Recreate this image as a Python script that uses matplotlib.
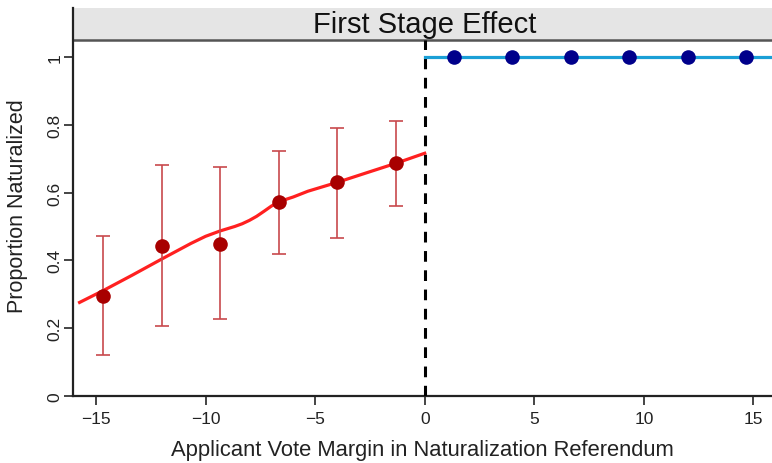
import matplotlib.pyplot as plt
from matplotlib.patches import Rectangle

plt.rcParams['font.family'] = ['Liberation Sans', 'DejaVu Sans']

# binned means below the threshold (with 95% CIs)
left_x = [-14.67, -12.0, -9.33, -6.67, -4.0, -1.33]
left_y = [0.296, 0.443, 0.448, 0.571, 0.630, 0.686]
left_lo = [0.121, 0.207, 0.226, 0.420, 0.466, 0.560]
left_hi = [0.471, 0.681, 0.675, 0.724, 0.791, 0.811]

# binned means above the threshold
right_x = [1.33, 4.0, 6.67, 9.33, 12.0, 14.67]
right_y = [1.0, 1.0, 1.0, 1.0, 1.0, 1.0]

# smoothed fit, left side
fit_x = [-15.75, -14.67, -13.33, -12.0, -10.67, -10.0, -9.33, -8.67, -8.33, -8.0,
         -7.67, -7.33, -7.0, -6.67, -6.33, -6.0, -5.33, -4.0, -2.67, -1.33, 0.0]
fit_y = [0.276, 0.311, 0.357, 0.404, 0.450, 0.471, 0.487, 0.500, 0.508, 0.518,
         0.530, 0.545, 0.560, 0.572, 0.580, 0.587, 0.604, 0.630, 0.658, 0.686, 0.716]

# fit above the threshold
fit_r_x = [0.0, 16.0]
fit_r_y = [1.0, 1.0]

xticks = [-15, -10, -5, 0, 5, 10, 15]
yticks = [0, 0.2, 0.4, 0.6, 0.8, 1]
yticklabels = ['0', '0.2', '0.4', '0.6', '0.8', '1']

fig = plt.figure(figsize=(7.72, 4.64), dpi=100)
ax = fig.add_axes([73 / 772, 67 / 464, 1 - 73 / 772, 397 / 464])
xmin, xmax = -16.05, 15.85
ymin, ymax = 0.0, 1.171
ax.set_xlim(xmin, xmax)
ax.set_ylim(ymin, ymax)

# title strip
ax.add_patch(Rectangle((xmin, 1.050), xmax - xmin, 0.095, facecolor='#e5e5e5',
                       edgecolor='none', zorder=1, clip_on=False))
ax.plot([xmin, xmax], [1.051, 1.051], color='#555555', lw=1.8, zorder=2)
ax.text(0, 1.0975, 'First Stage Effect', ha='center', va='center', fontsize=21, color='#111111')

# threshold
ax.plot([0, 0], [0, 1.05], color='black', lw=2.2, ls=(0, (3.5, 2.8)), zorder=3)

ax.plot(fit_x, fit_y, color='#ff2020', lw=2.3, zorder=4, solid_joinstyle='round')
ax.plot(fit_r_x, fit_r_y, color='#1a9fd6', lw=2.3, zorder=4)

err_lo = [y - lo for y, lo in zip(left_y, left_lo)]
err_hi = [hi - y for y, hi in zip(left_y, left_hi)]
ax.errorbar(left_x, left_y, yerr=[err_lo, err_hi], fmt='none', ecolor='#c8484c',
            elinewidth=1.4, capsize=5, capthick=1.4, alpha=0.85, zorder=5)
ax.plot(left_x, left_y, 'o', color='#a80000', ms=10.5, mew=0, zorder=6)
ax.plot(right_x, right_y, 'o', color='#00008b', ms=10.5, mew=0, zorder=6)

for s in ['top', 'right']:
    ax.spines[s].set_visible(False)
ax.spines['left'].set_bounds(0, 1.145)
ax.spines['left'].set_linewidth(1.6)
ax.spines['bottom'].set_linewidth(1.6)
ax.spines['left'].set_color('#222222')
ax.spines['bottom'].set_color('#222222')

ax.set_xticks(xticks)
ax.set_xticklabels(['\u221215', '\u221210', '\u22125', '0', '5', '10', '15'])
ax.set_yticks(yticks)
ax.set_yticklabels(yticklabels, rotation=90, va='center')
ax.tick_params(length=6.5, width=1.4, color='#444444', labelsize=12.5, labelcolor='#222222')
ax.tick_params(axis='x', pad=4.5)
ax.tick_params(axis='y', pad=1.0)

ax.set_xlabel('Applicant Vote Margin in Naturalization Referendum', fontsize=15.8,
              color='#222222', labelpad=9)
ax.set_ylabel('Proportion Naturalized', fontsize=15.5, color='#222222')
ax.yaxis.set_label_coords(-0.064, 0.48)

fig.savefig('out.png', dpi=100)
